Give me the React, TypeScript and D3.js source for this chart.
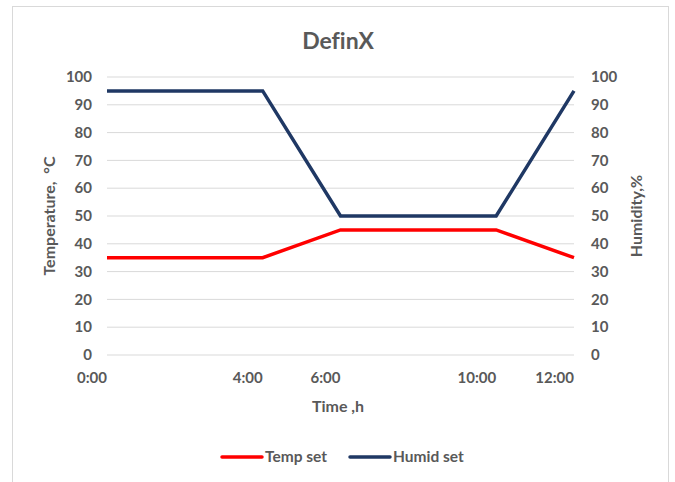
import React from 'react';
import * as d3 from 'd3';

const width = 675;
const height = 482;
const margin = {top: 77, right: 101, bottom: 127, left: 107};

const hours = [0, 4, 6, 10, 12];
const tickLabels = ['0:00', '4:00', '6:00', '10:00', '12:00'];
const tempSet = [35, 35, 45, 45, 35];
const humidSet = [95, 95, 50, 50, 95];
const yTicks = [0, 10, 20, 30, 40, 50, 60, 70, 80, 90, 100];

const red = '#ff0000';
const navy = '#1f3864';
const textColor = '#595959';
const gridColor = '#d9d9d9';
const font = 'Lato, "Open Sans", sans-serif';

const App: React.FC = () => {
  const xScale = d3.scaleLinear()
    .domain([0, 12])
    .range([margin.left, width - margin.right]);

  const yScale = d3.scaleLinear()
    .domain([0, 100])
    .range([height - margin.bottom, margin.top]);

  const line = d3.line<[number, number]>()
    .x(d => xScale(d[0]))
    .y(d => yScale(d[1]));

  const tempPath = line(hours.map((h, i) => [h, tempSet[i]])) || '';
  const humidPath = line(hours.map((h, i) => [h, humidSet[i]])) || '';

  const x0 = xScale(0);
  const x1 = xScale(12);
  const midY = (yScale(0) + yScale(100)) / 2;

  return (
    <svg width={width} height={height}
      style={{position: 'absolute', left: 0, top: 0, fontVariantLigatures: 'none'}}
      fontFamily={font} fontWeight='bold'>
      <rect x={12.5} y={6.5} width={656} height={490} fill='#fff' stroke={gridColor} />
      <text x={338} y={49} textAnchor='middle' fontSize={23} fill={textColor}>DefinX</text>

      {yTicks.map(t => (
        <g key={t}>
          <line x1={x0} x2={x1} y1={yScale(t)} y2={yScale(t)} stroke={gridColor} strokeWidth={1} />
          <text x={92} y={yScale(t)} dy='0.35em' textAnchor='end' fontSize={15} fill={textColor}>{t}</text>
          <text x={591} y={yScale(t)} dy='0.35em' textAnchor='start' fontSize={15} fill={textColor}>{t}</text>
        </g>
      ))}

      {hours.map((h, i) => (
        <text key={h} x={xScale(h)} y={383} textAnchor='end' fontSize={15} fill={textColor}>{tickLabels[i]}</text>
      ))}

      <path d={tempPath} fill='none' stroke={red} strokeWidth={3.5} />
      <path d={humidPath} fill='none' stroke={navy} strokeWidth={3.5} />

      <text x={338} y={412} textAnchor='middle' fontSize={16} fill={textColor}>Time ,h</text>
      <text transform={`translate(55, ${midY}) rotate(-90)`} textAnchor='middle' fontSize={16} fill={textColor}>
        {'Temperature,\u00a0\u00a0°C'}
      </text>
      <text transform={`translate(642, ${midY}) rotate(-90)`} textAnchor='middle' fontSize={16} fill={textColor}>
        Humidity,%
      </text>

      <g transform='translate(222, 457)'>
        <line x1={0} x2={40} y1={0} y2={0} stroke={red} strokeWidth={3.5} strokeLinecap='round' />
        <text x={43} y={0} dy='0.35em' fontSize={15.5} fill={textColor}>Temp set</text>
        <line x1={128} x2={168} y1={0} y2={0} stroke={navy} strokeWidth={3.5} strokeLinecap='round' />
        <text x={171} y={0} dy='0.35em' fontSize={15.5} fill={textColor}>Humid set</text>
      </g>
    </svg>
  );
};

export default App;
